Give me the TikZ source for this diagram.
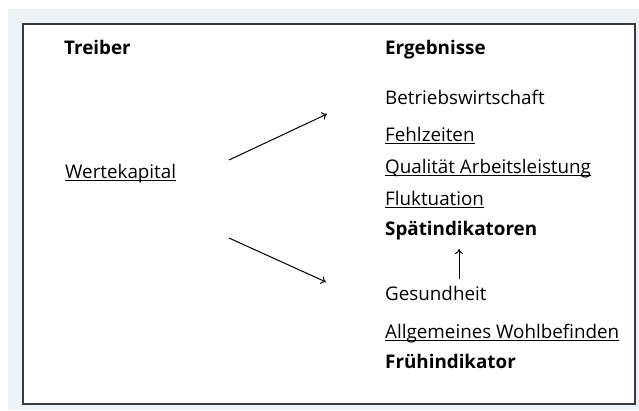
\documentclass[tikz,border=0pt]{standalone}
\usepackage{fontspec}
\setmainfont{Open Sans}
\newcommand{\ulx}[1]{\setbox0\hbox{#1}\rlap{\rule[-3pt]{\wd0}{1pt}}\box0}
\usetikzlibrary{arrows.meta}
\definecolor{bgcol}{HTML}{EEF2F9}
\definecolor{boxcol}{HTML}{3A3A3A}
\begin{document}
\begin{tikzpicture}[x=1pt,y=-1pt,
  lbl/.style={anchor=base west,inner sep=0pt,font=\fontsize{18.8}{22}\selectfont},
  hd/.style={lbl,font=\fontsize{18.8}{22}\selectfont\bfseries},
  arr/.style={-{To[length=5pt,width=8pt]},line width=1pt}]
\useasboundingbox (0,0) rectangle (639,410);
\fill[bgcol] (8,9) rectangle (639,410);
\draw[boxcol,line width=1.6pt,fill=white] (23,24) rectangle (635,404);
\node[hd] (treiber) at (64,54) {Treiber};
\node[hd] (ergeb) at (385,54) {Ergebnisse};
\node[lbl] (wk) at (65,178) {\ulx{Wertekapital}};
\node[lbl] (bw) at (385,104) {Betriebswirtschaft};
\node[lbl] (fz) at (385,141) {\ulx{Fehlzeiten}};
\node[lbl] (qa) at (385,173) {\ulx{Qualität Arbeitsleistung}};
\node[lbl] (fl) at (385,205) {\ulx{Fluktuation}};
\node[hd] (sp) at (385,235) {Spätindikatoren};
\node[lbl] (ge) at (385,300) {Gesundheit};
\node[lbl] (aw) at (385,338) {\ulx{Allgemeines Wohlbefinden}};
\node[hd] (fr) at (385,368) {Frühindikator};
\coordinate (a1s) at (229,160);
\coordinate (a1e) at (327,114);
\coordinate (a2s) at (229,238);
\coordinate (a2e) at (326,282);
\coordinate (a3s) at (459,279);
\coordinate (a3e) at (459,249);
\draw[arr] (a1s) -- (a1e);
\draw[arr] (a2s) -- (a2e);
\draw[arr] (a3s) -- (a3e);
\end{tikzpicture}
\end{document}
